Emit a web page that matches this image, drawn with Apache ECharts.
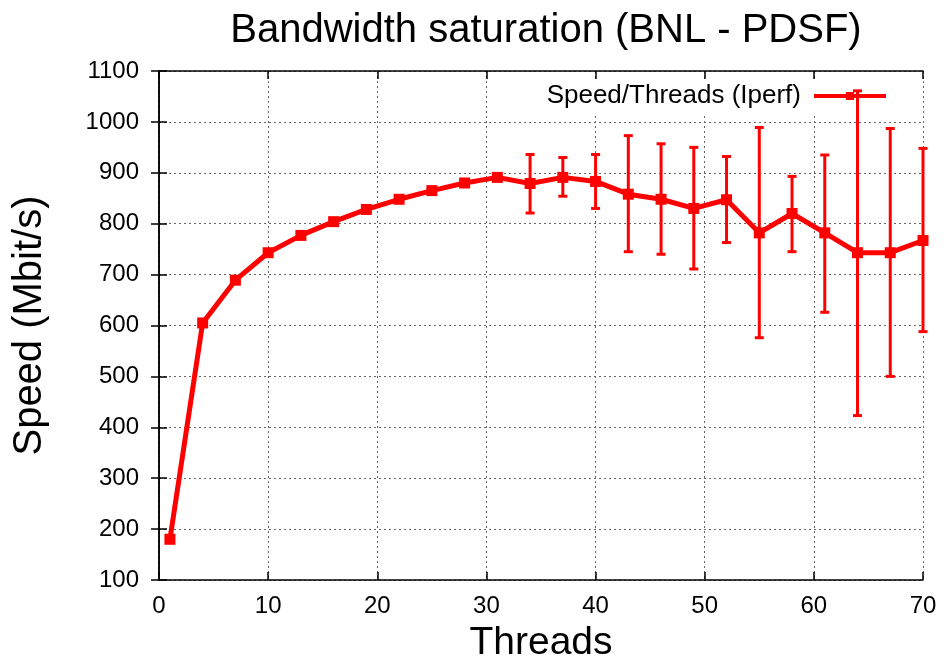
<!DOCTYPE html>
<html><head><meta charset="utf-8">
<script src="https://cdn.jsdelivr.net/npm/echarts@6/dist/echarts.min.js"></script>
<style>html,body{margin:0;padding:0;background:#fff}#c{width:945px;height:668px}</style>
</head><body><div id="c"></div>
<script>
const threads = [1,4,7,10,13,16,19,22,25,28,31,34,37,40,43,46,49,52,55,58,61,64,67,70];
const speed   = [180,605,689,743,777,804,828,848,865,880,891,879,891,883,858,848,830,847,782,820,782,743,743,767];
const errLow  = [null,null,null,null,null,null,null,null,null,null,null,821,854,830,745,740,711,763,576,745,626,423,500,588];
const errHigh = [null,null,null,null,null,null,null,null,null,null,null,936,930,936,973,957,950,932,989,893,935,1061,987,948];
const xTicks = [0,10,20,30,40,50,60,70];
const yTicks = [100,200,300,400,500,600,700,800,900,1000,1100];

const FONT = '"Liberation Sans", Arial, sans-serif';
const RED = '#ff0000';
const lineData = threads.map((t,i)=>[t,speed[i]]);
const errData = [];
threads.forEach((t,i)=>{ if(errLow[i]!=null) errData.push([t,errLow[i],errHigh[i]]); });

const chart = echarts.init(document.getElementById('c'), null, {renderer:'canvas'});
const axisCommon = {
  axisLine:{show:true,lineStyle:{color:'#000',width:1.5}},
  axisTick:{show:true,inside:true,length:8,lineStyle:{color:'#000',width:1.5}},
};
chart.setOption({
  animation:false,
  backgroundColor:'#fff',
  title:{text:'Bandwidth saturation (BNL - PDSF)',left:541,top:6,textAlign:'center',
    textStyle:{fontFamily:FONT,fontSize:40,fontWeight:'normal',color:'#000'}},
  grid:{left:159,right:22,top:71,bottom:83.5,containLabel:false},
  legend:{right:53,top:79,z:1,backgroundColor:'#fff',padding:[4,4,4,4],
    align:'right',itemWidth:72,itemHeight:10,itemGap:10,
    lineStyle:{width:4,color:RED},
    textStyle:{fontFamily:FONT,fontSize:26,color:'#000',padding:[0,8,0,0]},
    data:[{name:'Speed/Threads (Iperf)'}]},
  xAxis:[
    Object.assign({type:'value',min:xTicks[0],max:xTicks[xTicks.length-1],interval:10,position:'bottom',
      name:'Threads',nameLocation:'middle',nameGap:44,
      nameTextStyle:{fontFamily:FONT,fontSize:39,color:'#000',verticalAlign:'top'},
      axisLabel:{fontFamily:FONT,fontSize:24,color:'#000',margin:14},
      splitLine:{show:true,lineStyle:{color:'#666',type:[2,3],width:1}}},axisCommon),
    Object.assign({type:'value',min:xTicks[0],max:xTicks[xTicks.length-1],interval:10,position:'top',
      axisLabel:{show:false},splitLine:{show:false}},axisCommon)
  ],
  yAxis:[
    Object.assign({type:'value',min:yTicks[0],max:yTicks[yTicks.length-1],interval:100,position:'left',
      name:'Speed (Mbit/s)',nameLocation:'middle',nameGap:109,nameRotate:90,
      nameTextStyle:{fontFamily:FONT,fontSize:40,color:'#000'},
      axisLabel:{fontFamily:FONT,fontSize:24,color:'#000',margin:20,formatter:function(v){return String(v);}},
      splitLine:{show:true,lineStyle:{color:'#666',type:[2,3],width:1}}},axisCommon),
    Object.assign({type:'value',min:yTicks[0],max:yTicks[yTicks.length-1],interval:100,position:'right',
      axisLabel:{show:false},splitLine:{show:false}},axisCommon)
  ],
  series:[
    {name:'Speed/Threads (Iperf)',type:'line',data:lineData,z:3,
      symbol:'rect',symbolSize:11,showSymbol:true,
      lineStyle:{color:RED,width:5},itemStyle:{color:RED},clip:false},
    {name:'err',type:'custom',z:3,data:errData,clip:false,
      renderItem:function(params,api){
        const x=api.value(0);
        const lo=api.coord([x,api.value(1)]);
        const hi=api.coord([x,api.value(2)]);
        const w=4.5;
        const st={stroke:RED,lineWidth:3};
        return {type:'group',children:[
          {type:'line',shape:{x1:lo[0],y1:lo[1],x2:hi[0],y2:hi[1]},style:st},
          {type:'line',shape:{x1:lo[0]-w,y1:lo[1],x2:lo[0]+w,y2:lo[1]},style:st},
          {type:'line',shape:{x1:hi[0]-w,y1:hi[1],x2:hi[0]+w,y2:hi[1]},style:st}
        ]};
      }}
  ]
});
</script></body></html>
